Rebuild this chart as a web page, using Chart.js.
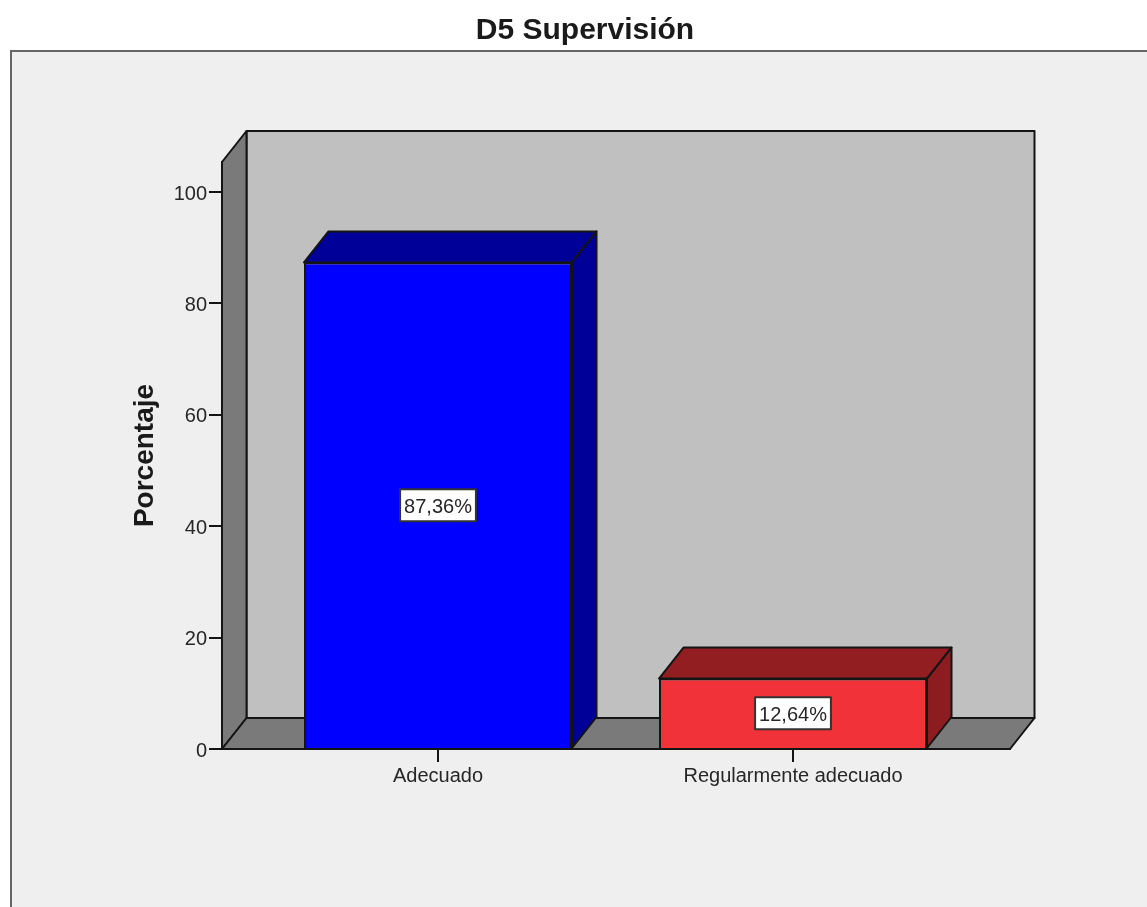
<!DOCTYPE html>
<html>
<head>
<meta charset="utf-8">
<title>D5 Supervisión</title>
<script src="https://cdn.jsdelivr.net/npm/chart.js@4/dist/chart.umd.min.js"></script>
<style>
    html, body { margin: 0; padding: 0; background: #ffffff; overflow: hidden; }
    canvas { display: block; }
</style>
</head>
<body>
<canvas id="barChart" width="1147" height="907"></canvas>
<script>
// Values
const categories = ['Adecuado', 'Regularmente adecuado'];
const percentages = [87.36, 12.64];
const yTicks = [0, 20, 40, 60, 80, 100];

const frontColors = ['#0000ff', '#f13239'];
const topColors = ['#000099', '#921e22'];
const sideColors = ['#000099', '#8c1c20'];

const FONT = '"Liberation Sans", Arial, sans-serif';
const INK = '#262626';
const LINE = '#141414';
const DEPTH_X = 24.5;
const DEPTH_Y = 31;

function poly(ctx, points, fill) {
    ctx.beginPath();
    points.forEach((p, i) => i ? ctx.lineTo(p[0], p[1]) : ctx.moveTo(p[0], p[1]));
    ctx.closePath();
    ctx.fillStyle = fill;
    ctx.fill();
    ctx.stroke();
}

// Grey panel and the walls of the 3D box
const panelPlugin = {
    id: 'panel',
    beforeDraw(chart) {
        const { ctx, chartArea: a, width, height } = chart;
        ctx.save();
        ctx.fillStyle = '#efefef';
        ctx.fillRect(11, 51, width - 11, height - 51);
        ctx.strokeStyle = '#666666';
        ctx.lineWidth = 2;
        ctx.beginPath();
        ctx.moveTo(11, height);
        ctx.lineTo(11, 51);
        ctx.lineTo(width, 51);
        ctx.stroke();

        ctx.strokeStyle = LINE;
        ctx.lineJoin = 'round';
        const bx = DEPTH_X, by = DEPTH_Y;
        poly(ctx, [[a.left + bx, a.top - by], [a.right + bx, a.top - by], [a.right + bx, a.bottom - by], [a.left + bx, a.bottom - by]], '#c0c0c0');
        poly(ctx, [[a.left, a.top], [a.left + bx, a.top - by], [a.left + bx, a.bottom - by], [a.left, a.bottom]], '#7a7a7a');
        poly(ctx, [[a.left, a.bottom], [a.left + bx, a.bottom - by], [a.right + bx, a.bottom - by], [a.right, a.bottom]], '#7a7a7a');
        ctx.restore();
    }
};

// Top and side faces of each bar, then the value boxes
const barFacesPlugin = {
    id: 'barFaces',
    afterDatasetsDraw(chart) {
        const { ctx } = chart;
        const bars = chart.getDatasetMeta(0).data;
        ctx.save();
        ctx.strokeStyle = LINE;
        ctx.lineWidth = 2;
        ctx.lineJoin = 'round';
        bars.forEach((bar, i) => {
            const l = bar.x - bar.width / 2;
            const r = bar.x + bar.width / 2;
            poly(ctx, [[l, bar.y], [l + DEPTH_X, bar.y - DEPTH_Y], [r + DEPTH_X, bar.y - DEPTH_Y], [r, bar.y]], topColors[i]);
            poly(ctx, [[r, bar.y], [r + DEPTH_X, bar.y - DEPTH_Y], [r + DEPTH_X, bar.base - DEPTH_Y], [r, bar.base]], sideColors[i]);
        });

        ctx.font = '20px ' + FONT;
        ctx.textAlign = 'center';
        ctx.textBaseline = 'middle';
        bars.forEach((bar, i) => {
            const text = percentages[i].toFixed(2).replace('.', ',') + '%';
            const w = ctx.measureText(text).width + 8;
            const cy = (bar.y + bar.base) / 2;
            ctx.fillStyle = '#ffffff';
            ctx.strokeStyle = '#333333';
            ctx.lineWidth = 2;
            ctx.fillRect(bar.x - w / 2, cy - 16, w, 32);
            ctx.strokeRect(bar.x - w / 2, cy - 16, w, 32);
            ctx.fillStyle = INK;
            ctx.fillText(text, bar.x, cy + 2);
        });
        ctx.restore();
    }
};

new Chart(document.getElementById('barChart'), {
    type: 'bar',
    data: {
        datasets: [{
            data: percentages.map((v, i) => ({ x: i, y: v })),
            backgroundColor: frontColors,
            borderColor: LINE,
            borderWidth: 2,
            barPercentage: 0.755,
            categoryPercentage: 1,
            clip: false
        }]
    },
    options: {
        responsive: false,
        animation: false,
        layout: { padding: { left: 160, right: 137, top: 0, bottom: 118 } },
        plugins: {
            legend: { display: false },
            tooltip: { enabled: false },
            title: {
                display: true,
                text: 'D5 Supervisión',
                color: '#1a1a1a',
                font: { family: FONT, size: 30, weight: 'bold' },
                padding: { top: 13, bottom: 113 }
            }
        },
        scales: {
            x: {
                type: 'linear',
                offset: false,
                min: -0.6085,
                max: 1.6113,
                afterFit: scale => { scale.height = 40; },
                afterBuildTicks: scale => { scale.ticks = categories.map((c, i) => ({ value: i })); },
                grid: { offset: false, drawOnChartArea: false, color: LINE, tickLength: 13, lineWidth: 2 },
                border: { color: LINE, width: 2 },
                ticks: {
                    color: INK,
                    padding: 2,
                    maxRotation: 0,
                    font: { family: FONT, size: 20 },
                    callback: value => categories[value]
                }
            },
            y: {
                min: 0,
                max: 105.4,
                afterFit: scale => { scale.width = 62; },
                afterBuildTicks: scale => { scale.ticks = yTicks.map(v => ({ value: v })); },
                grid: { drawOnChartArea: false, color: LINE, tickLength: 13, lineWidth: 2 },
                border: { color: LINE, width: 2 },
                ticks: {
                    color: INK,
                    padding: 2,
                    labelOffset: 2,
                    font: { family: FONT, size: 20 }
                },
                title: {
                    display: true,
                    text: 'Porcentaje',
                    color: '#1a1a1a',
                    font: { family: FONT, size: 28, weight: 'bold' },
                    padding: { top: -32, bottom: 0 }
                }
            }
        }
    },
    plugins: [panelPlugin, barFacesPlugin]
});
</script>
</body>
</html>
